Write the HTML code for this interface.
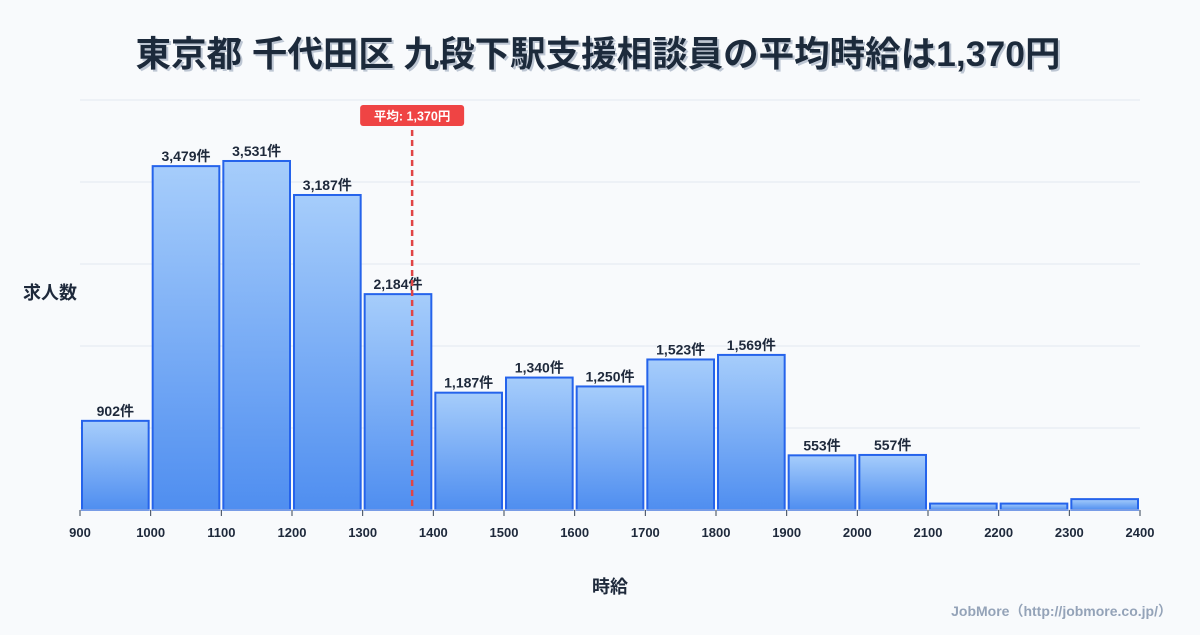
<!DOCTYPE html>
<html><head><meta charset="utf-8"><style>
html,body{margin:0;padding:0;background:#f8fafc;}
body{width:1200px;height:630px;overflow:hidden;font-family:"Liberation Sans","Noto Sans CJK JP",sans-serif;}
</style></head><body>
<svg id="chart" width="1200" height="630" xmlns="http://www.w3.org/2000/svg" font-family="'Liberation Sans','Noto Sans CJK JP',sans-serif">
<defs>
<linearGradient id="bg" x1="0" y1="0" x2="0" y2="1"><stop offset="0" stop-color="#a6cdfb"/><stop offset="1" stop-color="#4f8ef0"/></linearGradient>
<filter id="ts"><feDropShadow dx="2" dy="2" stdDeviation="0" flood-color="#94a3b8" flood-opacity="0.6"/></filter>
</defs>
<text x="598" y="66" text-anchor="middle" font-size="35.5" font-weight="bold" fill="#1e293b" filter="url(#ts)">東京都 千代田区 九段下駅支援相談員の平均時給は1,370円</text>
<g id="grid"></g>
<g id="bars"></g>
<g id="xticks"></g>
<text x="50" y="299" text-anchor="middle" font-size="18" font-weight="bold" fill="#1e293b">求人数</text>
<text x="610" y="593" text-anchor="middle" font-size="18" font-weight="bold" fill="#1e293b">時給</text>
<text x="1172" y="616" text-anchor="end" font-size="14" font-weight="bold" fill="#94a3b8">JobMore（http://jobmore.co.jp/）</text>
</svg>
<script>
const binStarts=[900,1000,1100,1200,1300,1400,1500,1600,1700,1800,1900,2000,2100,2200,2300];
const counts=[902,3479,3531,3187,2184,1187,1340,1250,1523,1569,553,557,65,65,110];
const showLabel=[1,1,1,1,1,1,1,1,1,1,1,1,0,0,0];
const xTicks=[900,1000,1100,1200,1300,1400,1500,1600,1700,1800,1900,2000,2100,2200,2300,2400];
const avg=1370;
const NS="http://www.w3.org/2000/svg";
const X0=80,X1=1140,Y0=510,Y1=100,xMin=900,xMax=2400,yMax=4148;
const x=v=>X0+(v-xMin)/(xMax-xMin)*(X1-X0);
const y=v=>Y0-v/yMax*(Y0-Y1);
function mk(t,a,p){const e=document.createElementNS(NS,t);for(const k in a)e.setAttribute(k,a[k]);p.appendChild(e);return e;}
const grid=document.getElementById('grid');
for(let i=0;i<=5;i++){const gy=Y0-i*(Y0-Y1)/5;
const l=mk('line',{x1:X0,x2:X1,y1:gy,y2:gy,stroke:'#e2e8f0','stroke-width':1},grid);

}
const bars=document.getElementById('bars');
binStarts.forEach((b,i)=>{
const xl=x(b)+2,xr=x(b+100)-2,yt=y(counts[i]);
const r=mk('rect',{x:xl,y:yt,width:xr-xl,height:Y0-yt,fill:'url(#bg)',stroke:'#2563eb','stroke-width':2},bars);


if(showLabel[i]){const t=mk('text',{x:(xl+xr)/2,y:yt-5,'text-anchor':'middle','font-size':14,'font-weight':'bold',fill:'#1e293b'},bars);
t.textContent=counts[i].toLocaleString('en-US')+'件';

}
});
const xt=document.getElementById('xticks');
mk('line',{x1:X0,x2:X1,y1:Y0,y2:Y0,stroke:'#cbd5e1','stroke-width':1},xt);
xTicks.forEach(v=>{
const l=mk('line',{x1:x(v),x2:x(v),y1:Y0,y2:Y0+6,stroke:'#334155','stroke-width':1},xt);


const t=mk('text',{x:x(v),y:Y0+27,'text-anchor':'middle','font-size':13,'font-weight':'bold',fill:'#1e293b'},xt);
t.textContent=v;

});
const ax=x(avg);
const al=mk('line',{x1:ax,x2:ax,y1:130,y2:Y0,stroke:'#e04545','stroke-width':2.5,'stroke-dasharray':'6,4'},bars);


const ab=mk('rect',{x:ax-52,y:105,width:104,height:21,rx:3,fill:'#ef4444'},bars);


const at=mk('text',{x:ax,y:120.5,'text-anchor':'middle','font-size':12.5,'font-weight':'bold',fill:'#ffffff'},bars);
at.textContent='平均: '+avg.toLocaleString('en-US')+'円';


</script>
</body></html>
